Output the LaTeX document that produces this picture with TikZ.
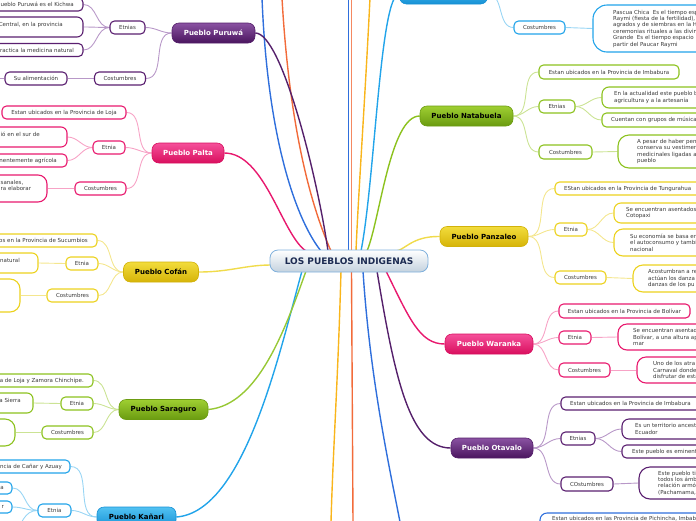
\documentclass[tikz,border=0pt]{standalone}
\usepackage{fontspec}
\setmainfont{DejaVu Sans}
\usetikzlibrary{backgrounds,fit}
\definecolor{txt}{HTML}{3A3A3A}
\definecolor{purD}{HTML}{55206B}\definecolor{purT}{HTML}{8A52A2}\definecolor{purB}{HTML}{4A155E}\definecolor{purS}{HTML}{5A1F70}\definecolor{purL}{HTML}{B898C8}
\definecolor{pinD}{HTML}{D8105F}\definecolor{pinT}{HTML}{F5509A}\definecolor{pinB}{HTML}{D90F5E}\definecolor{pinS}{HTML}{E8196E}\definecolor{pinL}{HTML}{F7A3C6}
\definecolor{yelD}{HTML}{D2B20A}\definecolor{yelT}{HTML}{F2DC3C}\definecolor{yelB}{HTML}{D6B408}\definecolor{yelS}{HTML}{ECD21E}\definecolor{yelL}{HTML}{F4E68E}
\definecolor{grnD}{HTML}{6C9C12}\definecolor{grnT}{HTML}{9FCF32}\definecolor{grnB}{HTML}{6A9B10}\definecolor{grnS}{HTML}{8CC21E}\definecolor{grnL}{HTML}{CBE394}
\definecolor{bluD}{HTML}{1790D4}\definecolor{bluT}{HTML}{52C2F2}\definecolor{bluB}{HTML}{1792D6}\definecolor{bluS}{HTML}{22A4EA}\definecolor{bluL}{HTML}{98D5F4}
\definecolor{dkb}{HTML}{2F6FDC}\definecolor{org}{HTML}{F26B3A}\definecolor{amb}{HTML}{F9B51B}
\definecolor{cenD}{HTML}{7FB0DC}\definecolor{cenB}{HTML}{C4D2DE}\definecolor{cenT}{HTML}{1C2B52}
\begin{document}
\begin{tikzpicture}[x=1pt,y=-1pt,
  mainbase/.style={rounded corners=7pt, minimum height=20pt, inner xsep=4pt, inner ysep=0pt, font=\fontsize{7}{8}\selectfont\bfseries, line width=0.6pt},
  mainP/.style={mainbase, draw=purD, top color=purT, bottom color=purB, text=white},
  mainK/.style={mainbase, draw=pinD, top color=pinT, bottom color=pinB, text=white},
  mainY/.style={mainbase, draw=yelD, top color=yelT, bottom color=yelB, text=black},
  mainG/.style={mainbase, draw=grnD, top color=grnT, bottom color=grnB, text=black},
  mainB/.style={mainbase, draw=bluD, top color=bluT, bottom color=bluB, text=black},
  central/.style={rounded corners=8pt, minimum width=158pt, minimum height=22pt, draw=cenD, line width=0.8pt, top color=white, bottom color=cenB, font=\fontsize{9}{10}\selectfont\bfseries, text=cenT},
  subbase/.style={fill=white, line width=1.1pt, rounded corners=4.5pt, minimum height=13pt, inner ysep=1.5pt, inner xsep=4pt, font=\fontsize{5.5}{6.4}\selectfont, text=txt},
  subP/.style={subbase, draw=purS}, subK/.style={subbase, draw=pinS}, subY/.style={subbase, draw=yelS},
  subG/.style={subbase, draw=grnS}, subB/.style={subbase, draw=bluS}, subD/.style={subbase, draw=dkb},
  boxfit/.style={inner sep=0pt, minimum height=0pt},
  tx/.style={font=\fontsize{5.5}{6.4}\selectfont, text=txt, inner sep=0pt},
  txR/.style={tx, anchor=east, align=right},
  txL/.style={tx, anchor=west, align=left},
  cP/.style={draw=purL, line width=0.9pt}, cK/.style={draw=pinL, line width=0.9pt}, cY/.style={draw=yelL, line width=0.9pt},
  cG/.style={draw=grnL, line width=0.9pt}, cB/.style={draw=bluL, line width=0.9pt},
  mline/.style={line width=1.4pt}]
\useasboundingbox (0,0) rectangle (696,520);
\clip (0,0) rectangle (696,520);

% central
\node[central] (c) at (349,261) {LOS PUEBLOS INDIGENAS};

% Puruwa
\node[mainP, minimum width=83pt] (pu) at (213.5,33) {Pueblo Puruwá};
\node[subP, minimum width=35pt] (puE) at (127.5,27.5) {Etnias};
\node[subP, minimum width=51pt] (puC) at (120,78.5) {Costumbres};
\node[subP, boxfit, fit={(-30,-2)(83,11)}] (pu1) {};
\node[txR] (pu1t) at (74,4.5) {ueblo Puruwá es el Kichwa};
\node[subP, boxfit, rounded corners=6pt, fit={(-30,17)(83,37)}] (pu2) {};
\node[txR] (pu2t) at (63,24.5) {Central, en la provincia};
\node[subP, boxfit, fit={(-30,43.5)(83,56.5)}] (pu3) {};
\node[txR] (pu3t) at (74,50) {ractica la medicina natural};
\node[subP, minimum width=62pt] (pu4) at (36,78.5) {Su alimentación};
\coordinate (pu5) at (-6,78.5);

% Palta
\node[mainK, minimum width=72pt] (pa) at (188,153) {Pueblo Palta};
\node[subK, minimum width=32pt] (paE) at (109,147.5) {Etnia};
\node[subK, minimum width=51pt] (paC) at (100.5,188.5) {Costumbres};
\node[subK, minimum width=124pt] (pa1) at (64,112.5) {Estan ubicados en la Provincia de Loja};
\node[subK, boxfit, rounded corners=6pt, fit={(-30,127)(67,147)}] (pa2) {};
\node[txR] (pa2t) at (40,134.5) {ió en el sur de};
\node[subK, boxfit, fit={(-30,154)(67,167)}] (pa3) {};
\node[txR] (pa3t) at (57,160.5) {inentemente agrícola};
\node[subK, boxfit, rounded corners=9pt, fit={(-30,175)(47,202)}] (pa4) {};
\node[txL] (pa4t) at (0.5,185.5) {sanales,\\ra elaborar};

% Cofan
\node[mainY, minimum width=75pt] (co) at (161,272) {Pueblo Cofán};
\node[subY, minimum width=32pt] (coE) at (82,263.5) {Etnia};
\node[subY, minimum width=51pt] (coC) at (72.5,295.5) {Costumbres};
\node[subY, boxfit, fit={(-30,234)(97,247)}] (co1) {};
\node[txR] (co1t) at (88,240.5) {os en la Provincia de Sucumbios};
\node[subY, boxfit, rounded corners=6pt, fit={(-30,253)(38,273)}] (co2) {};
\node[txR] (co2t) at (20,260.5) {natural};
\node[subY, boxfit, rounded corners=10pt, fit={(-30,279)(20,312)}] (co3) {};

% Saraguro
\node[mainG, minimum width=89pt] (sa) at (163.5,409.5) {Pueblo Saraguro};
\node[subG, minimum width=32pt] (saE) at (77,403.5) {Etnia};
\node[subG, minimum width=51pt] (saC) at (67.5,432.5) {Costumbres};
\node[subG, boxfit, fit={(-30,374)(93,387)}] (sa1) {};
\node[txR] (sa1t) at (84,380.5) {a de Loja y Zamora Chinchipe.};
\node[subG, boxfit, rounded corners=6pt, fit={(-30,393)(33,413)}] (sa2) {};
\node[txR] (sa2t) at (21,400.5) {a Sierra};
\node[subG, boxfit, rounded corners=10pt, fit={(-30,419)(15,446)}] (sa3) {};

% Kanari
\node[mainB, minimum width=79pt] (ka) at (136.5,517) {Pueblo Kañari};
\node[subB, minimum width=33pt] (kaE) at (54.5,510.5) {Etnia};
\node[subB, boxfit, fit={(-30,460)(70,473)}] (ka1) {};
\node[txR] (ka1t) at (62,466.5) {ncia de Cañar y Azuay};
\node[subB, boxfit, fit={(-30,482)(12,494)}] (ka2) {};
\node[txR] (ka2t) at (4,488) {a};
\node[subB, boxfit, fit={(-30,501)(12,513)}] (ka3) {};
\node[txR] (ka3t) at (4,507) {r};
\coordinate (ka4) at (15,535);

% top blue
\node[mainB, minimum width=88pt] (tp) at (443.5,-6) {};
\node[subB, minimum width=51pt] (tpC) at (539.5,27.5) {Costumbres};
\node[subB, boxfit, rounded corners=14pt, fit={(593,5)(730,52)}] (tp1) {};
\node[txL] (tp1t) at (613,28.5) {Pascua Chica~ Es el tiempo esp\\Raymi (fiesta de la fertilidad),\\agrados y de siembras en la H\\ceremonias rituales a las divin\\Grande~ Es el tiempo espacio\\partir del Paucar Raymi};

% Natabuela
\node[mainG, minimum width=93pt] (na) at (466.5,116) {Pueblo Natabuela};
\node[subG, minimum width=140pt, minimum height=14pt] (na1) at (609,72) {Estan ubicados en la Provincia de Imbabura};
\node[subG, minimum width=36pt] (naE) at (557,106.5) {Etnias};
\node[subG, minimum width=53pt, minimum height=14pt] (naC) at (565.5,152) {Costumbres};
\node[subG, boxfit, rounded corners=7pt, fit={(602,87)(730,108)}] (na2) {};
\node[txL] (na2t) at (614,97.5) {En la actualidad este pueblo b\\agricultura y a la artesanía};
\node[subG, boxfit, fit={(602,113)(730,127)}] (na3) {};
\node[txL] (na3t) at (611,120) {Cuentan con grupos de música};
\node[subG, boxfit, rounded corners=11pt, fit={(618,135)(730,168)}] (na4) {};
\node[txL] (na4t) at (637,151.5) {A pesar de haber pen\\conserva su vestimen\\medicinales ligadas a\\pueblo};

% Panzaleo
\node[mainY, minimum width=88pt] (pz) at (484,236.5) {Pueblo Panzaleo};
\node[subY, boxfit, fit={(555,182)(730,195)}] (pz1) {};
\node[txL] (pz1t) at (564,188.5) {EStan ubicados en la Provincia de Tungurahua};
\node[subY, minimum width=32pt] (pzE) at (571,229.5) {Etnia};
\node[subY, minimum width=51pt] (pzC) at (580.5,277.5) {Costumbres};
\node[subY, boxfit, rounded corners=7pt, fit={(614,203)(730,223)}] (pz2) {};
\node[txL] (pz2t) at (626,213) {Se encuentran asentados\\Cotopaxi};
\node[subY, boxfit, rounded corners=9pt, fit={(614,229)(730,256)}] (pz3) {};
\node[txL] (pz3t) at (630,242.5) {Su economía se basa en\\el autoconsumo y tambi\\nacional};
\node[subY, boxfit, rounded corners=10pt, fit={(633,265)(730,292)}] (pz4) {};
\node[txL] (pz4t) at (648,278.5) {Acostumbran a re\\actúan los danza\\danzas de los pu};

% Waranka
\node[mainK, minimum width=88pt] (wa) at (489,344) {Pueblo Waranka};
\node[subK, minimum width=131pt, minimum height=14pt] (wa1) at (624.5,311) {Estan ubicados en la Provincia de Bolívar};
\node[subK, minimum width=32pt] (waE) at (575,337.5) {Etnia};
\node[subK, minimum width=51pt, minimum height=14pt] (waC) at (584.5,370) {Costumbres};
\node[subK, boxfit, rounded corners=9pt, fit={(618,324)(730,350)}] (wa2) {};
\node[txL] (wa2t) at (633,337) {Se encuentran asentad\\Bolívar, a una altura ap\\mar};
\node[subK, boxfit, rounded corners=9pt, fit={(637,357)(730,383)}] (wa3) {};
\node[txL] (wa3t) at (653,370) {Uno de los atra\\Carnaval donde\\disfrutar de esta};

% Otavalo
\node[mainP, minimum width=82pt] (ot) at (492,448) {Pueblo Otavalo};
\node[subP, boxfit, fit={(561,397)(730,410)}] (ot1) {};
\node[txL] (ot1t) at (570,403.5) {Estan ubicados en la Provincia de Imbabura};
\node[subP, minimum width=34pt] (otE) at (578,438.5) {Etnias};
\node[subP, minimum width=52pt, minimum height=14pt] (otC) at (587,484) {COstumbres};
\node[subP, boxfit, rounded corners=7pt, fit={(622,419)(730,439)}] (ot2) {};
\node[txL] (ot2t) at (635,429) {Es un territorio ancest\\Ecuador};
\node[subP, boxfit, fit={(622,445)(730,458)}] (ot3) {};
\node[txL] (ot3t) at (632,451.5) {Este pueblo es eminent};
\node[subP, boxfit, rounded corners=11pt, fit={(639,467)(730,499)}] (ot4) {};
\node[txL] (ot4t) at (658,483) {Este pueblo ti\\todos los ámb\\relación armó\\(Pachamama,};

% bottom box
\node[subD, boxfit, rounded corners=7pt, fit={(540,513)(730,540)}] (bt1) {};
\node[txL] (bt1t) at (552,518.5) {Estan ubicados en las Provincia de Pichincha, Imbabura};

% connector anchor points on the central node
\coordinate (t1) at (306,251); \coordinate (t2) at (321,251); \coordinate (t3) at (328,251);
\coordinate (t4) at (331,251); \coordinate (t5) at (348.5,251); \coordinate (t6) at (351.5,251);
\coordinate (t7) at (356,251); \coordinate (t8) at (361,251); \coordinate (t9) at (367,251);
\coordinate (t10) at (396,251); \coordinate (l1) at (271,265);
\coordinate (b1) at (302,271); \coordinate (b2) at (306,271); \coordinate (b3) at (341,271);
\coordinate (b4) at (351.5,271); \coordinate (b5) at (363,271); \coordinate (b6) at (377,271); \coordinate (b7) at (386,271);
\coordinate (e1) at (262,-2); \coordinate (e2) at (282,-2); \coordinate (e3) at (348.5,-2);
\coordinate (e4) at (351.5,-2); \coordinate (e5) at (370,-2);
\coordinate (f1) at (331,522); \coordinate (f2) at (353,522); \coordinate (f3) at (400,522);

\begin{scope}[on background layer]
\clip (0,0) rectangle (696,520);
% main lines
\draw[mline, draw=dkb] (e1) .. controls (268,150) and (300,225) .. (t2);
\draw[mline, draw=org] (e2) .. controls (290,140) and (315,215) .. (t4);
\draw[mline, draw=purD] (pu.east) .. controls (282,33) and (318,180) .. (t3);
\draw[mline, draw=pinS] (pa.east) .. controls (265,153) and (282,235) .. (t1);
\draw[mline, draw=dkb] (e3) -- (t5);
\draw[mline, draw=org!80] (e4) -- (t6);
\draw[mline, draw=amb] (e5) .. controls (365,100) and (358,200) .. (t7);
\draw[mline, draw=bluS] (tp.west) .. controls (380,-6) and (375,180) .. (t8);
\draw[mline, draw=grnS] (na.west) .. controls (390,116) and (380,220) .. (t9);
\draw[mline, draw=yelS!80] (pz.west) .. controls (412,236) and (405,250) .. (t10);
\draw[mline, draw=yelS!80] (co.east) .. controls (230,272) and (245,265) .. (l1);
\draw[mline, draw=bluS] (b1) .. controls (280,350) and (245,512) .. (ka.east);
\draw[mline, draw=grnS!90] (b2) .. controls (285,330) and (258,405) .. (sa.east);
\draw[mline, draw=amb] (b3) .. controls (338,380) and (333,450) .. (f1);
\draw[mline, draw=org] (b4) -- (f2);
\draw[mline, draw=dkb] (b5) .. controls (370,380) and (390,470) .. (f3);
\draw[mline, draw=purD] (b6) .. controls (395,380) and (410,448) .. (ot.west);
\draw[mline, draw=pinS] (b7) .. controls (410,320) and (420,344) .. (wa.west);
% child connectors
\draw[cP] (pu.west) to[out=180,in=0] (puE.east);
\draw[cP] (pu.west) to[out=180,in=0] (puC.east);
\draw[cP] (puE.west) to[out=180,in=0] (pu1.east);
\draw[cP] (puE.west) to[out=180,in=0] (pu2.east);
\draw[cP] (puE.west) to[out=180,in=0] (pu3.east);
\draw[cP] (puC.west) -- (pu4.east);
\draw[cP] (pu4.west) -- (pu5);
\draw[cK] (pa.west) to[out=180,in=0] (pa1.east);
\draw[cK] (pa.west) to[out=180,in=0] (paE.east);
\draw[cK] (pa.west) to[out=180,in=0] (paC.east);
\draw[cK] (paE.west) to[out=180,in=0] (pa2.east);
\draw[cK] (paE.west) to[out=180,in=0] (pa3.east);
\draw[cK] (paC.west) -- (pa4.east);
\draw[cY] (co.west) to[out=180,in=0] (co1.east);
\draw[cY] (co.west) to[out=180,in=0] (coE.east);
\draw[cY] (co.west) to[out=180,in=0] (coC.east);
\draw[cY] (coE.west) -- (co2.east);
\draw[cY] (coC.west) -- (co3.east);
\draw[cG] (sa.west) to[out=180,in=0] (sa1.east);
\draw[cG] (sa.west) to[out=180,in=0] (saE.east);
\draw[cG] (sa.west) to[out=180,in=0] (saC.east);
\draw[cG] (saE.west) -- (sa2.east);
\draw[cG] (saC.west) -- (sa3.east);
\draw[cB] (ka.west) to[out=180,in=0] (ka1.east);
\draw[cB] (ka.west) to[out=180,in=0] (kaE.east);
\draw[cB] (kaE.west) to[out=180,in=0] (ka2.east);
\draw[cB] (kaE.west) to[out=180,in=0] (ka3.east);
\draw[cB] (kaE.west) to[out=180,in=60] (ka4);
\draw[cB] (tp.east) to[out=0,in=180] (tpC.west);
\draw[cB] (tpC.east) -- (tp1.west);
\draw[cG] (na.east) to[out=0,in=180] (na1.west);
\draw[cG] (na.east) to[out=0,in=180] (naE.west);
\draw[cG] (na.east) to[out=0,in=180] (naC.west);
\draw[cG] (naE.east) to[out=0,in=180] (na2.west);
\draw[cG] (naE.east) to[out=0,in=180] (na3.west);
\draw[cG] (naC.east) -- (na4.west);
\draw[cY] (pz.east) to[out=0,in=180] (pz1.west);
\draw[cY] (pz.east) to[out=0,in=180] (pzE.west);
\draw[cY] (pz.east) to[out=0,in=180] (pzC.west);
\draw[cY] (pzE.east) to[out=0,in=180] (pz2.west);
\draw[cY] (pzE.east) to[out=0,in=180] (pz3.west);
\draw[cY] (pzC.east) -- (pz4.west);
\draw[cK] (wa.east) to[out=0,in=180] (wa1.west);
\draw[cK] (wa.east) to[out=0,in=180] (waE.west);
\draw[cK] (wa.east) to[out=0,in=180] (waC.west);
\draw[cK] (waE.east) -- (wa2.west);
\draw[cK] (waC.east) -- (wa3.west);
\draw[cP] (ot.east) to[out=0,in=180] (ot1.west);
\draw[cP] (ot.east) to[out=0,in=180] (otE.west);
\draw[cP] (ot.east) to[out=0,in=180] (otC.west);
\draw[cP] (otE.east) to[out=0,in=180] (ot2.west);
\draw[cP] (otE.east) to[out=0,in=180] (ot3.west);
\draw[cP] (otC.east) -- (ot4.west);
\end{scope}
\end{tikzpicture}
\end{document}
